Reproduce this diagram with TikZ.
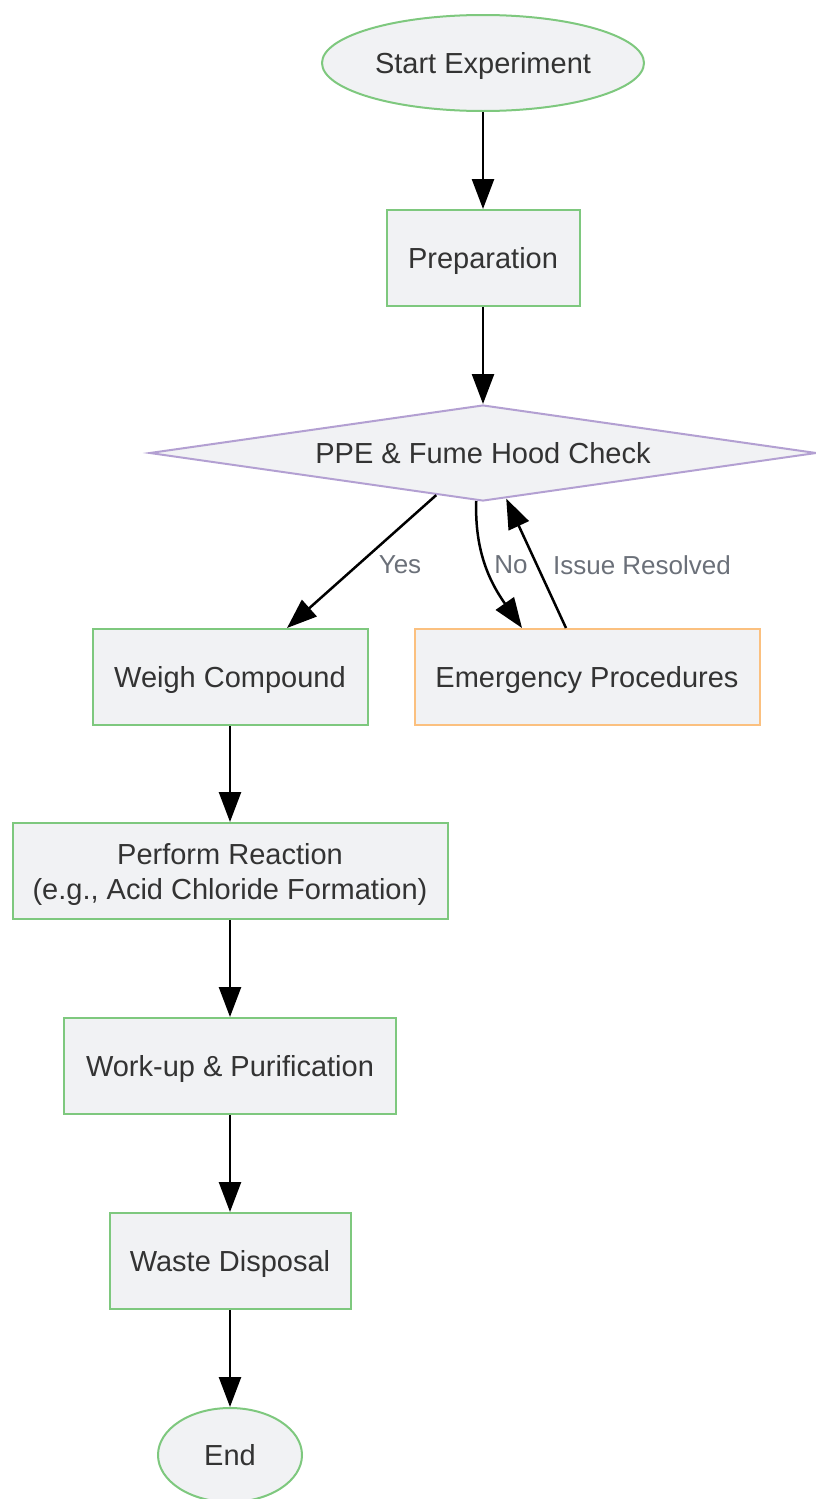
\documentclass[tikz,border=0pt]{standalone}
\usepackage{fontspec}
\setmainfont{Liberation Sans}
\usetikzlibrary{shapes.geometric,arrows.meta}
\definecolor{boxfill}{HTML}{F1F2F4}
\definecolor{okgreen}{HTML}{7EC87E}
\definecolor{chkpurple}{HTML}{B3A0D2}
\definecolor{alertorange}{HTML}{FBC07F}
\definecolor{txt}{HTML}{333333}
\definecolor{lbltxt}{HTML}{6B7079}
\tikzset{
    stepbox/.style={draw=okgreen,fill=boxfill,line width=2pt,minimum height=96pt,inner sep=0pt,text=txt,font=\fontsize{29}{35}\selectfont,align=center,text height=27pt,text depth=6pt},
    termbox/.style={stepbox,ellipse},
    checkbox/.style={stepbox,draw=chkpurple,diamond,aspect=6.95},
    alertbox/.style={stepbox,draw=alertorange},
    lbl/.style={text=lbltxt,font=\fontsize{26}{30}\selectfont,inner sep=0pt},
    flow/.style={line width=2.5pt,-{Triangle[length=30pt,width=22pt]}}
}
\begin{document}
\begin{tikzpicture}[x=1pt,y=-1pt]
    \useasboundingbox(0,0)rectangle(815,1499);
    \node[termbox,minimum width=322pt](start)at(483,63){Start Experiment};
    \node[stepbox,minimum width=193pt](prep)at(483,258){Preparation};
    \node[checkbox,minimum width=667pt](chk)at(483,453){PPE \& Fume Hood Check};
    \node[stepbox,minimum width=275pt](weigh)at(230,677){Weigh Compound};
    \node[alertbox,minimum width=345pt](emg)at(587,677){Emergency Procedures};
    \node[stepbox,minimum width=435pt,text height=62pt](react)at(230,871){Perform Reaction\\(e.g., Acid Chloride Formation)};
    \node[stepbox,minimum width=332pt](workup)at(230,1066){Work-up \& Purification};
    \node[stepbox,minimum width=241pt](waste)at(230,1261){Waste Disposal};
    \node[termbox,minimum width=144pt,minimum height=94pt](finish)at(230,1455){End};
    % main line
    \draw[flow](start)--(prep);
    \draw[flow](prep)--(chk);
    \draw[flow](chk.-138)--([xshift=57pt]weigh.north);
    \draw[flow](chk.-98)to[out=-92,in=125]([xshift=-65pt]emg.north);
    \draw[flow]([xshift=-21pt]emg.north)--(chk.-63);
    \draw[flow](weigh)--(react);
    \draw[flow](react)--(workup);
    \draw[flow](workup)--(waste);
    \draw[flow](waste)--(finish);
    % edge labels
    \node[lbl](yes)at(400,565){Yes};
    \node[lbl](no)at(511,565){No};
    \node[lbl](resolved)at(642,565){Issue Resolved};
\end{tikzpicture}
\end{document}
